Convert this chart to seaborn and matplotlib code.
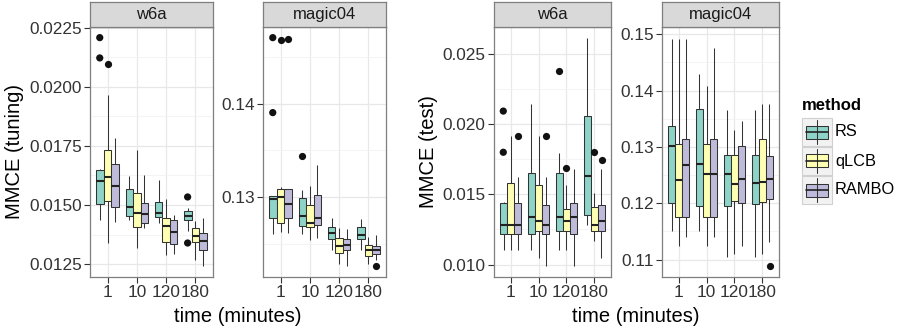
import numpy as np
import pandas as pd
import matplotlib
matplotlib.use("Agg")
import matplotlib.pyplot as plt
import seaborn as sns
from matplotlib.patches import Rectangle
from matplotlib.lines import Line2D
from matplotlib.ticker import FixedLocator, FormatStrFormatter

# ---------------- data ----------------
times = ["1", "10", "120", "180"]
methods = ["RS", "qLCB", "RAMBO"]
colors = ["#8DD3C7", "#FFFFB3", "#BEBADA"]

# rows = times, cols = methods (RS, qLCB, RAMBO)
tun_w6a_lo = [[0.01435, 0.01339, 0.01428], [0.01435, 0.01318, 0.01404], [0.01425, 0.01287, 0.01294], [0.01390, 0.01268, 0.01242]]
tun_w6a_q1 = [[0.01503, 0.01518, 0.01492], [0.01455, 0.01407, 0.01424], [0.01449, 0.01345, 0.01335], [0.01438, 0.01343, 0.01311]]
tun_w6a_med = [[0.01602, 0.01619, 0.01579], [0.01492, 0.01466, 0.01460], [0.01468, 0.01412, 0.01384], [0.01455, 0.01370, 0.01347]]
tun_w6a_q3 = [[0.01647, 0.01732, 0.01675], [0.01569, 0.01552, 0.01508], [0.01514, 0.01446, 0.01435], [0.01475, 0.01404, 0.01381]]
tun_w6a_hi = [[0.01654, 0.01966, 0.01785], [0.01623, 0.01732, 0.01629], [0.01607, 0.01524, 0.01459], [0.01489, 0.01434, 0.01446]]
tun_w6a_out_time = ["1", "1", "1", "180", "180"]
tun_w6a_out_method = ["RS", "RS", "qLCB", "RS", "RS"]
tun_w6a_out_value = [0.02209, 0.02123, 0.02097, 0.01534, 0.01339]

tun_mag_lo = [[0.12607, 0.12629, 0.12614], [0.12607, 0.12536, 0.12564], [0.12429, 0.12286, 0.12261], [0.12429, 0.12286, 0.12329]]
tun_mag_q1 = [[0.12775, 0.12725, 0.12779], [0.12689, 0.12682, 0.12704], [0.12546, 0.12404, 0.12436], [0.12546, 0.12371, 0.12393]]
tun_mag_med = [[0.12982, 0.13000, 0.12925], [0.12796, 0.12718, 0.12779], [0.12614, 0.12475, 0.12482], [0.12589, 0.12436, 0.12436]]
tun_mag_q3 = [[0.13007, 0.13089, 0.13086], [0.12989, 0.12911, 0.13018], [0.12679, 0.12564, 0.12554], [0.12679, 0.12482, 0.12471]]
tun_mag_hi = [[0.13010, 0.13107, 0.13090], [0.13071, 0.13114, 0.13346], [0.12775, 0.12671, 0.12661], [0.12768, 0.12571, 0.12589]]
tun_mag_out_time = ["1", "1", "1", "1", "10", "180"]
tun_mag_out_method = ["RS", "RS", "qLCB", "RAMBO", "RS", "RAMBO"]
tun_mag_out_value = [0.14707, 0.13904, 0.14679, 0.14689, 0.13439, 0.12257]

tst_w6a_lo = [[0.01107, 0.01107, 0.01107], [0.01107, 0.01050, 0.00991], [0.01107, 0.01107, 0.00991], [0.01280, 0.01166, 0.01050]]
tst_w6a_q1 = [[0.01220, 0.01220, 0.01220], [0.01220, 0.01237, 0.01220], [0.01237, 0.01237, 0.01220], [0.01351, 0.01237, 0.01237]]
tst_w6a_med = [[0.01282, 0.01282, 0.01282], [0.01339, 0.01308, 0.01282], [0.01339, 0.01308, 0.01339], [0.01630, 0.01282, 0.01308]]
tst_w6a_q3 = [[0.01438, 0.01583, 0.01438], [0.01654, 0.01569, 0.01424], [0.01654, 0.01393, 0.01438], [0.02059, 0.01408, 0.01424]]
tst_w6a_hi = [[0.01445, 0.01912, 0.01623], [0.02145, 0.01912, 0.01623], [0.01796, 0.01569, 0.01682], [0.02611, 0.01509, 0.01682]]
tst_w6a_out_time = ["1", "1", "1", "10", "120", "120", "180", "180"]
tst_w6a_out_method = ["RS", "RS", "RAMBO", "RAMBO", "RS", "qLCB", "qLCB", "RAMBO"]
tst_w6a_out_value = [0.02092, 0.01799, 0.01915, 0.01915, 0.02379, 0.01687, 0.01799, 0.01744]

tst_mag_lo = [[0.11509, 0.11243, 0.11402], [0.11509, 0.11243, 0.11402], [0.11041, 0.11095, 0.11243], [0.11041, 0.11095, 0.11314]]
tst_mag_q1 = [[0.12006, 0.11757, 0.11757], [0.11959, 0.11757, 0.11757], [0.11959, 0.12041, 0.12006], [0.11994, 0.12024, 0.12083]]
tst_mag_med = [[0.13012, 0.12408, 0.12675], [0.12698, 0.12515, 0.12515], [0.12515, 0.12337, 0.12438], [0.12355, 0.12385, 0.12438]]
tst_mag_q3 = [[0.13367, 0.13053, 0.13136], [0.13680, 0.13059, 0.13136], [0.12864, 0.12852, 0.13024], [0.12864, 0.13148, 0.12834]]
tst_mag_hi = [[0.14923, 0.14923, 0.14923], [0.14302, 0.14083, 0.14763], [0.13663, 0.13296, 0.13456], [0.13663, 0.13769, 0.13769]]
tst_mag_out_time = ["180"]
tst_mag_out_method = ["RAMBO"]
tst_mag_out_value = [0.10882]

# ---------------- styling ----------------
sns.set_theme(style="white")
plt.rcParams["font.family"] = ["Liberation Sans", "DejaVu Sans"]

W, H = 902, 331
fig = plt.figure(figsize=(W / 100, H / 100), dpi=100)


def fr(x0, y0, x1, y1):
    """pixel box (top-left origin) -> figure fraction rect"""
    return [x0 / W, 1 - y1 / H, (x1 - x0) / W, (y1 - y0) / H]


def box_frame(lo, q1, med, q3, hi):
    rows = []
    for ti, t in enumerate(times):
        for mi, m in enumerate(methods):
            for v in (lo[ti][mi], q1[ti][mi], med[ti][mi], q3[ti][mi], hi[ti][mi]):
                rows.append((t, m, v))
    return pd.DataFrame(rows, columns=["time", "method", "value"])


panels = [
    dict(px=(90, 213), strip="w6a",
         box=(tun_w6a_lo, tun_w6a_q1, tun_w6a_med, tun_w6a_q3, tun_w6a_hi),
         out=(tun_w6a_out_time, tun_w6a_out_method, tun_w6a_out_value),
         ylim=(0.01195, 0.02254), ticks=[0.0125, 0.0150, 0.0175, 0.0200, 0.0225],
         minor=[0.01375, 0.01625, 0.01875, 0.02125], fmt="%.4f"),
    dict(px=(263, 386), strip="magic04",
         box=(tun_mag_lo, tun_mag_q1, tun_mag_med, tun_mag_q3, tun_mag_hi),
         out=(tun_mag_out_time, tun_mag_out_method, tun_mag_out_value),
         ylim=(0.12143, 0.14821), ticks=[0.13, 0.14],
         minor=[0.125, 0.135, 0.145], fmt="%.2f"),
    dict(px=(494, 611), strip="w6a",
         box=(tst_w6a_lo, tst_w6a_q1, tst_w6a_med, tst_w6a_q3, tst_w6a_hi),
         out=(tst_w6a_out_time, tst_w6a_out_method, tst_w6a_out_value),
         ylim=(0.00912, 0.02690), ticks=[0.010, 0.015, 0.020, 0.025],
         minor=[0.0125, 0.0175, 0.0225], fmt="%.3f"),
    dict(px=(662, 779), strip="magic04",
         box=(tst_mag_lo, tst_mag_q1, tst_mag_med, tst_mag_q3, tst_mag_hi),
         out=(tst_mag_out_time, tst_mag_out_method, tst_mag_out_value),
         ylim=(0.10692, 0.15130), ticks=[0.11, 0.12, 0.13, 0.14, 0.15],
         minor=[0.115, 0.125, 0.135, 0.145], fmt="%.2f"),
]

PT, PB = 27, 277
ST = 1.5
EDGE = "#333333"
BORDER = "#7F7F7F"

for p in panels:
    x0, x1 = p["px"]
    ax = fig.add_axes(fr(x0, PT, x1, PB))
    df = box_frame(*p["box"])
    sns.boxplot(data=df, x="time", y="value", hue="method", order=times,
                hue_order=methods, palette=colors, saturation=1, width=0.77,
                gap=0, whis=(0, 100), showfliers=False, showcaps=False,
                linecolor=EDGE, linewidth=0.75,
                medianprops=dict(linewidth=1.5, color="#222222"),
                legend=False, ax=ax)
    t, m, v = p["out"]
    odf = pd.DataFrame({"time": t, "method": m, "value": v})
    sns.stripplot(data=odf, x="time", y="value", hue="method", order=times,
                  hue_order=methods, palette=["#111111"] * 3, dodge=True,
                  jitter=False, size=5.2, linewidth=0, legend=False, ax=ax)
    ax.set_xlim(-0.6, 3.6)
    ax.set_ylim(*p["ylim"])
    ax.set_yticks(p["ticks"])
    ax.yaxis.set_major_formatter(FormatStrFormatter(p["fmt"]))
    ax.yaxis.set_minor_locator(FixedLocator(p["minor"]))
    ax.set_axisbelow(True)
    ax.grid(which="major", axis="both", color="#E8E8E8", linewidth=0.9)
    ax.grid(which="minor", axis="y", color="#F3F3F3", linewidth=0.6)
    ax.set_facecolor("white")
    for s in ax.spines.values():
        s.set_visible(True)
        s.set_color(BORDER)
        s.set_linewidth(0.9)
    ax.tick_params(axis="both", which="major", length=4.5, width=0.8,
                   color="#333333", labelsize=12.4, labelcolor="#333333", pad=1.5,
                   bottom=True, left=True)
    ax.tick_params(axis="y", which="minor", length=0)
    ax.set_xlabel("")
    ax.set_ylabel("")
    # facet strip
    sax = fig.add_axes(fr(x0, ST, x1, PT))
    sax.set_facecolor("#D9D9D9")
    sax.set_xticks([])
    sax.set_yticks([])
    for s in sax.spines.values():
        s.set_color(BORDER)
        s.set_linewidth(0.9)
    sax.text(0.5, 0.48, p["strip"], ha="center", va="center", fontsize=12,
             color="#1A1A1A", transform=sax.transAxes)

# axis titles
fig.text(238 / W, 1 - 317 / H, "time (minutes)", ha="center", va="center",
         fontsize=14.5, color="black")
fig.text(636 / W, 1 - 317 / H, "time (minutes)", ha="center", va="center",
         fontsize=14.5, color="black")
fig.text(15 / W, 1 - 152 / H, "MMCE (tuning)", ha="center", va="center",
         rotation=90, fontsize=14.5, color="black")
fig.text(429 / W, 1 - 152 / H, "MMCE (test)", ha="center", va="center",
         rotation=90, fontsize=14.5, color="black")

# legend
fig.text(802 / W, 1 - 106 / H, "method", ha="left", va="center",
         fontsize=12, fontweight="bold", color="black")
for i, (m, c) in enumerate(zip(methods, colors)):
    ky0 = 118 + 29 * i
    ky1 = ky0 + 28
    kx0, kx1 = 802, 832
    tf = fig.transFigure
    fig.add_artist(Rectangle((kx0 / W, 1 - ky1 / H), (kx1 - kx0) / W, (ky1 - ky0) / H,
                             facecolor="#F2F2F2", edgecolor="#D0D0D0", linewidth=0.8,
                             transform=tf))
    cx = (kx0 + kx1) / 2
    fig.add_artist(Line2D([cx / W, cx / W], [1 - (ky0 + 2) / H, 1 - (ky1 - 2) / H],
                          color=EDGE, linewidth=0.75, transform=tf))
    bx0, bx1 = kx0 + 4, kx1 - 4
    by0, by1 = ky0 + 7.5, ky1 - 7.5
    fig.add_artist(Rectangle((bx0 / W, 1 - by1 / H), (bx1 - bx0) / W, (by1 - by0) / H,
                             facecolor=c, edgecolor=EDGE, linewidth=0.75, transform=tf))
    my = (ky0 + ky1) / 2
    fig.add_artist(Line2D([bx0 / W, bx1 / W], [1 - my / H, 1 - my / H],
                          color="#222222", linewidth=1.2, transform=tf))
    fig.text(835 / W, 1 - my / H, m, ha="left", va="center", fontsize=11.8,
             color="black")

fig.savefig("out.png", dpi=100)
